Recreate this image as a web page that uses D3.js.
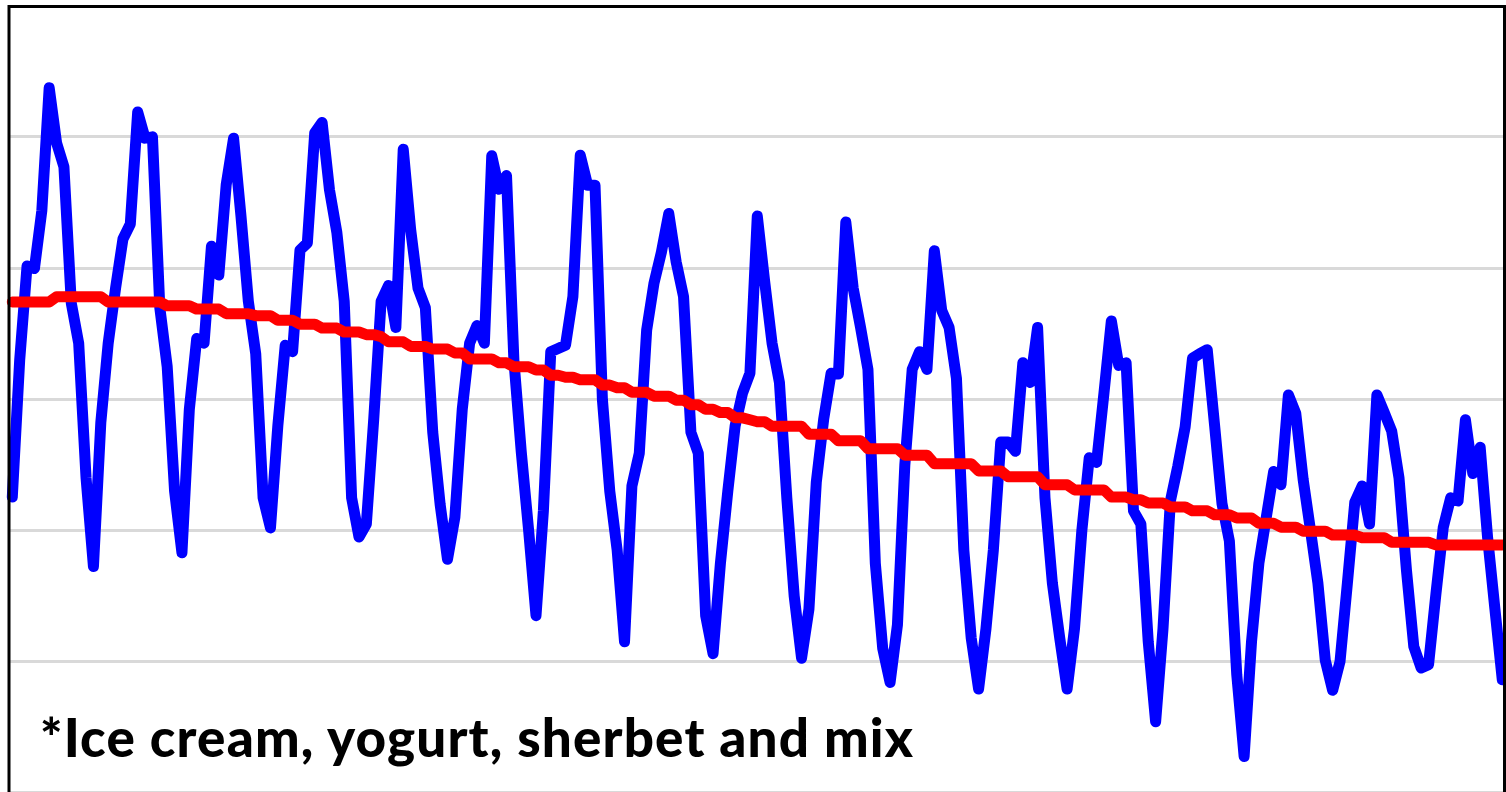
<!DOCTYPE html>
<html><head><meta charset="utf-8">
<script src="https://cdn.jsdelivr.net/npm/d3@7"></script>
<style>html,body{margin:0;padding:0;background:#fff;overflow:hidden}</style>
</head><body>
<svg id="c" width="1506" height="792"></svg>
<script>
// Monthly production (blue), 203 months
const production = [
  85.1, 106, 120.4, 120.0, 128.8, 147.6, 139.2, 135.5, 114.7, 108.6, 88, 74.5,
  96.5, 108.6, 117, 124.5, 126.8, 143.9, 139.9, 140.1, 114, 105, 86, 76.6,
  98.5, 109.3, 108.6, 123.4, 119.0, 132.8, 139.9, 128, 115, 107, 85, 80.4,
  96, 108.3, 107.3, 122.8, 123.9, 140.7, 142.3, 132, 125.5, 115, 85, 79,
  81, 97, 115, 117.4, 111, 138.2, 126, 117, 114, 95, 84, 75.6,
  82, 98.5, 108.6, 111.3, 108.6, 137.2, 132.1, 134.2, 106, 92, 80, 67,
  83, 107.3, 107.8, 108.3, 115.7, 137.3, 132.7, 132.7, 100, 86, 77, 63,
  86.8, 91.8, 110.6, 117.8, 122.5, 128.4, 121, 115.7, 95, 91.8, 67, 61.2,
  75, 86, 96, 101, 104, 128, 118, 108.6, 102.6, 85, 70, 60.5,
  68, 87.4, 97, 104, 103.9, 127.1, 117, 111, 104.6, 75, 62, 56.8,
  65.6, 90, 104.6, 107.3, 104.6, 122.7, 113.6, 111.0, 103.2, 77.0, 63.6, 55.8,
  65, 77, 93.5, 93.5, 92.1, 105.6, 102.6, 111.0, 85, 72, 63.6, 55.8,
  65, 80, 91.1, 90.4, 101, 112.0, 105.2, 105.6, 83, 81.0, 63, 50.8,
  65, 84.5, 89.8, 95.8, 106.3, 107, 107.6, 96, 84.1, 78.4, 58, 45.5,
  63, 75, 82, 89, 87, 100.7, 97.9, 87.8, 80, 72, 60.2, 55.6,
  60, 72, 84.3, 86.8, 81, 100.7, 98, 95.2, 88, 74, 62.3, 59,
  59.5, 70.3, 80.5, 85.0, 84.5, 96.9, 88.7, 92.7, 79, 68, 57.2
];
// 12-month trend (red)
const trend = [
  114.9, 114.9, 114.9, 114.9, 114.9, 114.9, 115.7, 115.7, 115.7, 115.7, 115.7, 115.7,
  115.7, 114.9, 114.9, 114.9, 114.9, 114.9, 114.9, 114.9, 114.9, 114.3, 114.3, 114.3,
  114.3, 113.8, 113.8, 113.8, 113.8, 113.1, 113.1, 113.1, 113.1, 112.8, 112.8, 112.8,
  112.1, 112.1, 112.1, 111.5, 111.5, 111.5, 110.9, 110.9, 110.9, 110.3, 110.3, 110.3,
  109.9, 109.9, 109.6, 108.8, 108.8, 108.8, 108.1, 108.1, 108.1, 107.7, 107.7, 107.7,
  107.1, 107.1, 106.2, 106.2, 106.2, 106.2, 105.6, 105.6, 105.0, 105.0, 105.0, 104.5,
  104.5, 103.7, 103.7, 103.4, 103.4, 103.0, 103.0, 103.0, 102.2, 102.2, 101.8, 101.8,
  101.1, 101.1, 101.1, 100.5, 100.5, 100.5, 99.9, 99.9, 99.2, 99.2, 98.5, 98.5,
  98.0, 98.0, 97.2, 97.2, 96.9, 96.6, 96.6, 95.9, 95.9, 95.9, 95.9, 95.9,
  94.7, 94.7, 94.7, 94.7, 93.7, 93.7, 93.7, 93.7, 92.5, 92.5, 92.5, 92.5,
  92.5, 91.5, 91.5, 91.5, 91.5, 90.2, 90.2, 90.2, 90.2, 90.2, 90.2, 89.1,
  89.1, 89.1, 89.1, 88.2, 88.2, 88.2, 88.2, 88.2, 87.0, 87.0, 87.0, 87.0,
  86.2, 86.2, 86.2, 86.2, 86.2, 85.1, 85.1, 85.1, 84.7, 84.7, 84.2, 84.2,
  84.2, 83.6, 83.6, 83.6, 83.0, 83.0, 83.0, 82.4, 82.4, 82.4, 81.9, 81.9,
  81.9, 81.1, 81.1, 81.1, 80.5, 80.5, 80.5, 79.9, 79.9, 79.9, 79.9, 79.3,
  79.3, 79.3, 79.3, 78.9, 78.9, 78.9, 78.9, 78.2, 78.2, 78.2, 78.2, 78.2,
  78.2, 77.8, 77.8, 77.8, 77.8, 77.8, 77.8, 77.8, 77.8, 77.8, 77.8
];
const gridValues = [40, 60, 80, 100, 120, 140];
const yDomain = [40, 160];
const noteText = "*Ice cream, yogurt, sherbet and mix";

const svg = d3.select("#c");
const frame = {left: 9, right: 1504.5, top: 6.5, bottom: 792.5};
const x = d3.scaleLinear().domain([0, production.length - 1]).range([12.3, 1502.3]);
const y = d3.scaleLinear().domain(yDomain).range([frame.bottom, frame.top]);

svg.append("rect").attr("width", 1506).attr("height", 792).attr("fill", "#fff");

// gridlines via axis
const grid = svg.append("g").attr("transform", `translate(${frame.left},0)`)
  .call(d3.axisLeft(y).tickValues(gridValues).tickSize(-(frame.right - frame.left)).tickFormat(""));
grid.select(".domain").remove();
grid.selectAll("line").attr("stroke", "#d9d9d9").attr("stroke-width", 3);
grid.selectAll(".tick").attr("transform", d => `translate(0,${Math.round(y(d) - 1) + 0.5})`);

const line = d3.line().x((d, i) => x(i)).y(d => y(d));

svg.append("path").datum(production)
  .attr("d", line).attr("fill", "none").attr("stroke", "#0000ff")
  .attr("stroke-width", 11).attr("stroke-linejoin", "round").attr("stroke-linecap", "round");

svg.append("path").datum(trend)
  .attr("d", line).attr("fill", "none").attr("stroke", "#ff0000")
  .attr("stroke-width", 11).attr("stroke-linejoin", "round").attr("stroke-linecap", "round");

// outer frame (top, left, right)
svg.append("path")
  .attr("d", `M${frame.left},800 L${frame.left},${frame.top} L${frame.right},${frame.top} L${frame.right},800`)
  .attr("fill", "none").attr("stroke", "#000").attr("stroke-width", 3);

svg.append("text").attr("x", 40).attr("y", 757)
  .attr("font-family", "Lato, 'Open Sans', sans-serif").attr("font-weight", 900)
  .attr("font-size", 53).attr("fill", "#000")
  .attr("textLength", 873).attr("lengthAdjust", "spacing")
  .text(noteText);
</script>
</body></html>
